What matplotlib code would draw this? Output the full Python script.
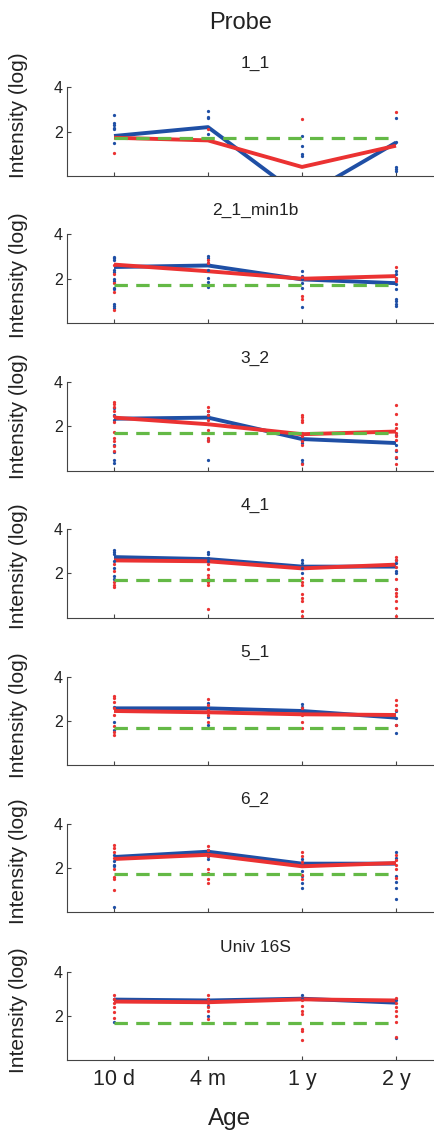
import matplotlib
matplotlib.use("Agg")
import matplotlib.pyplot as plt

plt.rcParams['font.family'] = ['Liberation Sans', 'DejaVu Sans']

ages = ["10 d", "4 m", "1 y", "2 y"]
probes = ["1_1", "2_1_min1b", "3_2", "4_1", "5_1", "6_2", "Univ 16S"]
threshold = 1.7

blue_mean = [
    [1.8, 2.2, -0.97, 1.5],
    [2.53, 2.6, 1.97, 1.8],
    [2.35, 2.4, 1.43, 1.25],
    [2.73, 2.64, 2.3, 2.3],
    [2.57, 2.57, 2.45, 2.15],
    [2.49, 2.73, 2.19, 2.19],
    [2.74, 2.7, 2.78, 2.6],
]
red_mean = [
    [1.72, 1.6, 0.4, 1.36],
    [2.64, 2.34, 2.0, 2.12],
    [2.4, 2.1, 1.65, 1.77],
    [2.58, 2.54, 2.22, 2.39],
    [2.45, 2.39, 2.3, 2.27],
    [2.4, 2.59, 2.07, 2.22],
    [2.65, 2.62, 2.75, 2.7],
]

blue_dots = [
    [[2.77, 2.37, 2.28, 2.18, 2.1, 1.47], [2.95, 2.67, 2.6, 1.88],
     [1.8, 1.35, 1.0, 0.9], [2.62, 1.51, 0.4, 0.3, 0.2]],
    [[3.0, 2.93, 2.85, 2.41, 2.3, 1.97, 1.9, 1.6, 1.53, 0.86, 0.76, 0.67],
     [3.05, 2.93, 2.7, 2.41, 2.04, 1.85, 1.64],
     [2.37, 2.12, 1.97, 1.82, 1.6, 0.71],
     [2.34, 2.2, 2.0, 1.75, 1.55, 1.1, 1.0, 0.86, 0.76]],
    [[2.83, 2.53, 2.3, 1.17, 0.84, 0.5, 0.35], [2.71, 2.53, 1.4, 0.5],
     [1.35, 1.25, 0.5, 0.35], [1.62, 1.17, 0.9, 0.57]],
    [[3.05, 2.95, 2.85, 2.55, 2.25, 1.87, 1.72], [2.95, 2.85, 2.7, 2.55],
     [2.6, 2.45, 2.22, 2.0], [2.6, 2.48, 2.1, 2.0, 1.27]],
    [[2.65, 1.97, 1.6], [2.8, 2.57, 2.2, 1.82],
     [2.75, 2.65, 2.5], [2.45, 2.12, 1.82, 1.44]],
    [[2.6, 2.3, 2.15, 2.07, 0.22], [2.82, 2.55, 2.4],
     [2.4, 1.85, 1.63, 1.33, 1.1], [2.7, 2.44, 1.63, 1.36, 1.1, 0.59]],
    [[2.78, 1.71], [2.78, 2.47, 2.02], [2.93, 2.78], [2.7, 1.02]],
]
red_dots = [
    [[1.04], [2.1], [2.58], [2.87]],
    [[2.64, 2.2, 1.82, 1.42, 0.61], [2.86, 2.7], [2.09, 1.23, 1.1], [2.52, 2.04, 1.9]],
    [[3.1, 3.0, 2.9, 2.7, 2.45, 2.2, 1.77, 1.5, 1.35, 1.1, 0.87],
     [2.9, 2.68, 2.53, 2.3, 2.1, 1.85, 1.47, 1.32],
     [2.53, 2.41, 2.3, 2.2, 1.7, 1.55, 1.32, 1.17, 0.3],
     [2.98, 2.56, 2.1, 1.95, 1.7, 1.55, 1.4, 0.95, 0.6, 0.3]],
    [[2.4, 2.1, 1.6, 1.45, 1.37], [2.4, 2.18, 1.94, 1.8, 1.6, 1.45, 0.4],
     [1.8, 1.6, 1.45, 1.05, 0.9, 0.75, 0.3, 0.07],
     [2.73, 2.6, 2.3, 1.72, 1.27, 1.12, 0.97, 0.75, 0.45, 0.07]],
    [[3.14, 3.02, 2.87, 2.57, 2.27, 1.75, 1.52, 1.37], [3.0, 2.73, 2.5, 2.25, 1.97],
     [2.57, 2.27, 1.97, 1.67], [2.95, 2.73, 2.5, 1.82]],
    [[3.04, 2.89, 2.7, 2.44, 1.93, 1.6, 1.48, 1.0],
     [3.0, 2.82, 2.55, 1.93, 1.75, 1.48, 1.3],
     [2.7, 2.52, 2.25, 1.66, 1.48], [2.59, 2.37, 2.15, 1.93, 1.56]],
    [[2.93, 2.78, 2.6, 2.4, 2.17, 1.9], [2.93, 2.78, 2.6, 2.4, 2.24, 1.86],
     [2.7, 2.47, 2.24, 2.09, 1.4, 1.33, 0.92],
     [2.81, 2.6, 2.4, 2.24, 2.0, 1.74, 1.07]],
]

BLUE = '#1f4fa5'
RED = '#eb3232'
GREEN = '#64b946'
TXT = '#222222'

W, H = 435, 1131
fig = plt.figure(figsize=(W / 100, H / 100), dpi=100)

ax_left, ax_right = 67, 443
tops = [87.3, 234.5, 382.2, 529.0, 676.7, 823.6, 971.7]
ax_h = 88.5
ylab_y = [0.68, 0.54, 0.62, 0.58, 0.57, 0.58, 0.56]

xs = list(range(1, len(ages) + 1))

for i, name in enumerate(probes):
    top = tops[i]
    ax = fig.add_axes([ax_left / W, 1 - (top + ax_h) / H,
                       (ax_right - ax_left) / W, ax_h / H])
    ax.plot(xs, blue_mean[i], color=BLUE, lw=2.8, solid_capstyle='butt', zorder=2)
    ax.plot(xs, red_mean[i], color=RED, lw=2.8, solid_capstyle='butt', zorder=3)
    for j, x in enumerate(xs):
        ax.scatter([x] * len(blue_dots[i][j]), blue_dots[i][j], s=5.5, color=BLUE,
                   linewidths=0, zorder=4)
        ax.scatter([x] * len(red_dots[i][j]), red_dots[i][j], s=5.5, color=RED,
                   linewidths=0, zorder=4)
    ax.plot([xs[0], xs[-1]], [threshold, threshold], color=GREEN, lw=2.3,
            dashes=(4.2, 2.6), zorder=5)
    ax.set_xlim(0.5, 4.5)
    ax.set_ylim(0, 4)
    ax.spines['top'].set_visible(False)
    ax.spines['right'].set_visible(False)
    for s in ('left', 'bottom'):
        ax.spines[s].set_color('#444444')
        ax.spines[s].set_linewidth(0.8)
    ax.set_yticks([2, 4])
    ax.set_xticks(xs)
    ax.tick_params(direction='in', length=3, width=0.8, color='#444444',
                   labelcolor=TXT)
    ax.tick_params(axis='y', labelsize=11.5, pad=3)
    if i == len(probes) - 1:
        ax.set_xticklabels(ages)
        ax.tick_params(axis='x', labelsize=15.5, pad=6)
    else:
        ax.set_xticklabels([])
    ax.set_title(name, fontsize=12.5, color=TXT, pad=14)
    ax.set_ylabel("Intensity (log)", fontsize=15, color=TXT)
    ax.yaxis.set_label_coords(-0.104, ylab_y[i])

fig.text(241 / W, 1 - 23 / H, "Probe", fontsize=17, color=TXT,
         ha='center', va='center')
fig.text(230 / W, 1 - 1119 / H, "Age", fontsize=17.5, color=TXT,
         ha='center', va='center')

fig.savefig("out.png", dpi=100)
